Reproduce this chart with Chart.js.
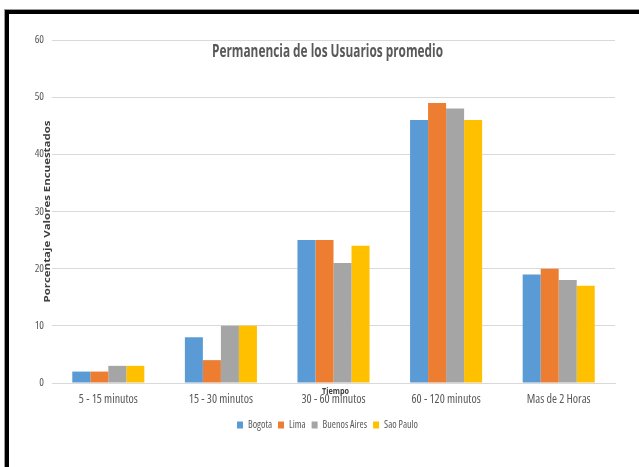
<!DOCTYPE html>
<html>
<head>
<meta charset="utf-8">
<script src="https://cdn.jsdelivr.net/npm/chart.js@4/dist/chart.umd.min.js"></script>
<style>
  html, body { margin: 0; padding: 0; background: #fff; }
  #wrap { position: relative; width: 639px; height: 467px; overflow: hidden; }
  #frame {
    position: absolute; left: 5px; top: 10px; width: 700px; height: 500px;
    border-top: 4px solid #000; border-left: 4px solid #000;
    box-shadow: -1px -1px 0 #9a9a9a;
  }
  #chart { position: absolute; left: 0; top: 0; }
</style>
</head>
<body>
<div id="wrap">
  <div id="frame"></div>
  <canvas id="chart" width="639" height="467"></canvas>
</div>
<script>
// Chart values
const categories = ['5 - 15 minutos', '15 - 30 minutos', '30 - 60 minutos', '60 - 120 minutos', 'Mas de 2 Horas'];
const bogota = [2, 8, 25, 46, 19];
const lima = [2, 4, 25, 49, 20];
const buenosAires = [3, 10, 21, 48, 18];
const saoPaulo = [3, 10, 24, 46, 17];
const yTicks = [0, 10, 20, 30, 40, 50, 60];

const FONT = "'Open Sans', sans-serif";
const TEXT = '#595959';
// 'condensed' goes into the css font shorthand (Calibri-like narrow look)
const NARROW = 'condensed';

// draw text squeezed to a given width
function fitText(ctx, text, x, y, width) {
  const w = ctx.measureText(text).width;
  ctx.save();
  ctx.translate(x, y);
  ctx.scale(width / w, 1);
  ctx.fillText(text, 0, 0);
  ctx.restore();
}

// Legend is centred under the plot area, not the whole canvas
const centreLegend = {
  id: 'centreLegend',
  afterLayout(chart) {
    const lg = chart.legend;
    const ca = chart.chartArea;
    const shift = (ca.left + ca.right) / 2 - 6 - (lg.left + lg.right) / 2;
    lg.left += shift;
    lg.right += shift;
  }
};

// Titles drawn inside / over the plot, as in the original
const overlayTitles = {
  id: 'overlayTitles',
  afterDraw(chart) {
    const { ctx, chartArea } = chart;
    const cx = (chartArea.left + chartArea.right) / 2;
    const cy = (chartArea.top + chartArea.bottom) / 2;
    ctx.save();
    ctx.fillStyle = TEXT;
    ctx.textAlign = 'center';
    ctx.textBaseline = 'middle';
    ctx.font = `bold 17px ${FONT}`;
    fitText(ctx, 'Permanencia de los Usuarios promedio', cx - 6, chartArea.top + 12, 231);

    ctx.fillStyle = '#404040';
    ctx.font = `bold 9px ${FONT}`;
    fitText(ctx, 'Tiempo', cx + 2, chartArea.bottom + 8, 27);

    ctx.translate(chartArea.left - 5, cy);
    ctx.rotate(-Math.PI / 2);
    fitText(ctx, 'Porcentaje Valores Encuestados', 0, 0, 182);
    ctx.restore();
  }
};

const ctx = document.getElementById('chart').getContext('2d');
new Chart(ctx, {
  type: 'bar',
  data: {
    labels: categories,
    datasets: [
      { label: 'Bogota', data: bogota, backgroundColor: '#5B9BD5' },
      { label: 'Lima', data: lima, backgroundColor: '#ED7D31' },
      { label: 'Buenos Aires', data: buenosAires, backgroundColor: '#A5A5A5' },
      { label: 'Sao Paulo', data: saoPaulo, backgroundColor: '#FFC000' }
    ]
  },
  options: {
    responsive: false,
    animation: false,
    categoryPercentage: 0.64,
    barPercentage: 1,
    layout: { padding: { top: 40, right: 24, bottom: 27, left: 0 } },
    plugins: {
      title: { display: false },
      tooltip: { enabled: false },
      legend: {
        position: 'bottom',
        labels: {
          font: { family: FONT, size: 10, weight: NARROW },
          color: TEXT,
          boxWidth: 6,
          boxHeight: 7,
          padding: 6
        }
      }
    },
    scales: {
      x: {
        grid: { display: false, drawTicks: false },
        border: { display: true, color: '#D9D9D9', width: 1 },
        ticks: { font: { family: FONT, size: 12, weight: NARROW }, color: TEXT, padding: 9, maxRotation: 0 },
        afterFit: (scale) => { scale.height = 31; }
      },
      y: {
        min: 0,
        max: 60,
        afterBuildTicks: (scale) => { scale.ticks = yTicks.map(v => ({ value: v })); },
        grid: { color: '#D9D9D9', drawTicks: false },
        border: { display: false },
        ticks: { font: { family: FONT, size: 11, weight: NARROW }, color: TEXT, padding: 8 },
        afterFit: (scale) => { scale.width = 52; }
      }
    }
  },
  plugins: [centreLegend, overlayTitles]
});
</script>
</body>
</html>
